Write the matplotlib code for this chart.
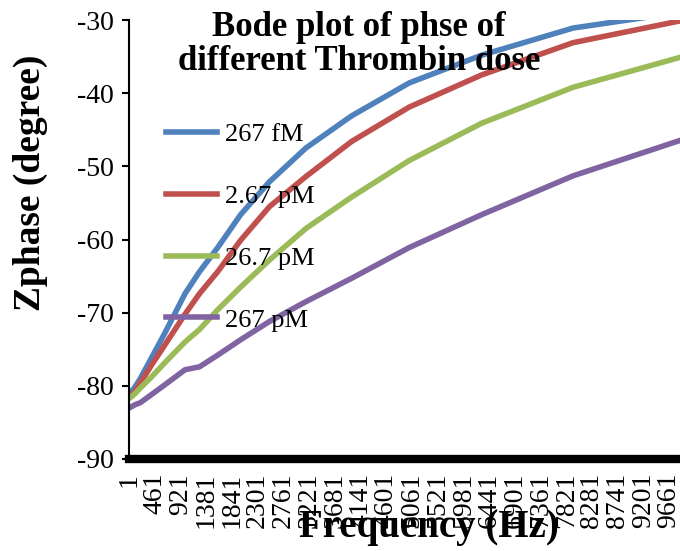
import matplotlib
matplotlib.use("Agg")
import matplotlib.pyplot as plt

plt.rcParams['font.family'] = ['Liberation Serif', 'DejaVu Serif']

# frequency points (Hz) and phase readings (degree) for each Thrombin dose
freq = [1, 10, 100, 200, 398, 631, 1000, 1259, 1585, 1995, 2512,
        3162, 3981, 5012, 6310, 7943, 10000]

phase_267fM = [-81.2, -81.1, -80.2, -79.0, -76.2, -72.9, -67.4, -64.4, -61.1,
               -56.6, -52.1, -47.5, -43.1, -38.6, -34.8, -31.1, -28.8]
phase_2_67pM = [-81.6, -81.5, -80.8, -79.6, -77.2, -74.5, -70.2, -67.4, -64.4,
                -60.1, -55.5, -51.4, -46.6, -41.9, -37.5, -33.1, -29.9]
phase_26_7pM = [-81.7, -81.7, -81.1, -80.3, -78.8, -76.9, -74.0, -72.3, -69.6,
                -66.5, -62.8, -58.5, -54.2, -49.2, -44.1, -39.2, -34.8]
phase_267pM = [-82.9, -83.0, -82.6, -82.3, -81.2, -79.9, -77.8, -77.4, -75.8,
               -73.7, -71.2, -68.5, -65.3, -61.1, -56.6, -51.3, -46.1]

labels = ["267 fM", "2.67 pM", "26.7 pM", "267 pM"]
colors = ["#4F81BD", "#C0504D", "#9BBB59", "#8064A2"]

x_ticks = list(range(1, 10001, 460))
y_ticks = [-90, -80, -70, -60, -50, -40, -30]

fig = plt.figure(figsize=(6.8, 5.51), dpi=100)
# the plot area runs a little past the right edge of the picture
ax = fig.add_axes([129.2 / 680, 92 / 551, (688 - 129.2) / 680, 439 / 551])

for ys, lab, col in zip([phase_267fM, phase_2_67pM, phase_26_7pM, phase_267pM],
                        labels, colors):
    ax.plot(freq, ys, color=col, lw=4, label=lab, solid_joinstyle='round')

ax.set_xlim(1, 10000)
ax.set_ylim(-90, -30)
ax.set_xticks(x_ticks)
ax.set_xticklabels([str(t) for t in x_ticks], rotation=90, fontsize=20)
ax.set_yticks(y_ticks)
ax.set_yticklabels([str(t) for t in y_ticks], fontsize=20)

ax.spines['top'].set_visible(False)
ax.spines['right'].set_visible(False)
ax.spines['left'].set_linewidth(1.5)
ax.spines['bottom'].set_linewidth(6)
ax.tick_params(axis='y', direction='out', length=5, width=1.5, pad=6)
ax.tick_params(axis='x', length=0, pad=10)

ax.legend(loc='upper left', bbox_to_anchor=(166 / 680, 1 - 123 / 551),
          bbox_transform=fig.transFigure, frameon=False, fontsize=19,
          handlelength=1.95, handletextpad=0.3, labelspacing=1.45,
          borderpad=0, borderaxespad=0)

fig.text(359 / 680, 1 - 11 / 551, "Bode plot of phse of\ndifferent Thrombin dose",
         ha='center', va='top', fontsize=25, fontweight='bold', linespacing=1.05)
fig.text(30 / 680, 1 - 183 / 551, "Zphase (degree)", rotation=90,
         ha='center', va='center', fontsize=27, fontweight='bold')
fig.text(429 / 680, 1 - 528 / 551, "Frequency (Hz)",
         ha='center', va='center', fontsize=28, fontweight='bold')

fig.savefig("out.png", dpi=100)
